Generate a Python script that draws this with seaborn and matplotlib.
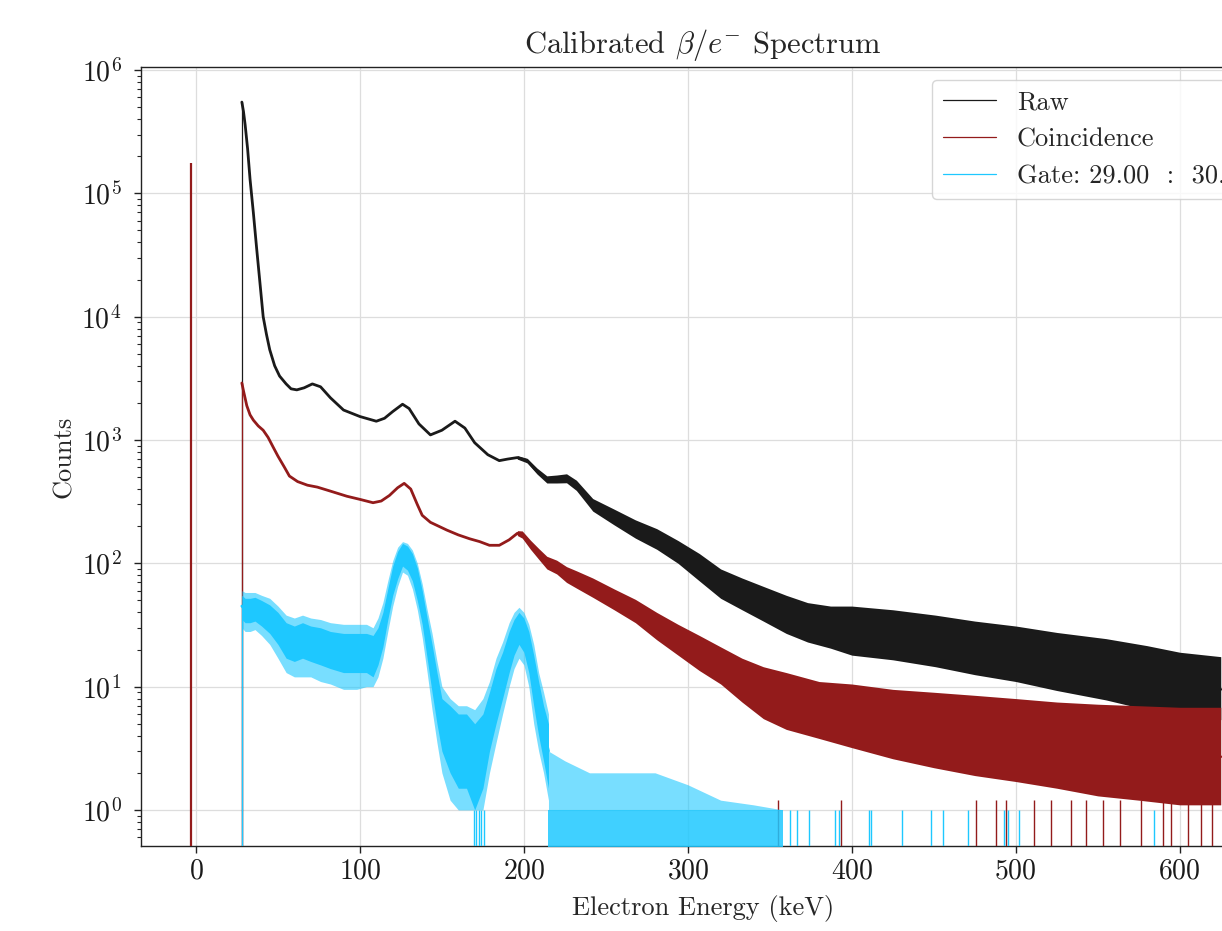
import numpy as np
import pandas as pd
import matplotlib
matplotlib.use("Agg")
import matplotlib.pyplot as plt
import seaborn as sns

# ---------------- data ----------------
raw_E = [28, 29, 30, 31.5, 33, 35, 37, 39, 41, 43, 45, 48, 51, 55, 58, 61.5, 66, 71, 76,
         82, 90, 100, 110, 115, 120, 126, 130, 136, 143, 150, 158, 164, 170, 178, 185, 190,
         196, 202, 208, 214, 220, 226, 232, 242, 255, 268, 281, 294, 307, 320, 333, 346, 360,
         373, 387, 400, 425, 451, 475, 500, 525, 555, 580, 600, 625]
raw_counts = [5.5e5, 4.6e5, 3.6e5, 2.3e5, 1.3e5, 7e4, 3.6e4, 1.9e4, 1.0e4, 7.2e3, 5.4e3,
              4.0e3, 3.3e3, 2.85e3, 2.6e3, 2.55e3, 2.65e3, 2.85e3, 2.7e3, 2.2e3, 1.75e3, 1.55e3,
              1.42e3, 1.5e3, 1.7e3, 1.95e3, 1.8e3, 1.35e3, 1.1e3, 1.2e3, 1.42e3, 1.25e3, 950,
              760, 680, 700, 720, 680, 560, 480, 480, 490, 430, 300, 240, 190, 160, 125, 95, 70,
              58, 48, 40, 34, 31, 29, 27, 24, 21, 19, 16, 14, 12, 10.5, 9.5]
# noise band of the raw spectrum
raw_band_E = [196, 202, 208, 214, 220, 226, 232, 242, 255, 268, 281, 294, 307, 320, 333, 346,
              360, 373, 387, 400, 425, 451, 475, 500, 525, 555, 580, 600, 625]
raw_band_lo = [700, 652, 530, 448, 448, 450, 390, 265, 205, 160, 130, 100, 72, 52, 42, 34,
               27, 23, 20.5, 18, 16.5, 14.5, 12.5, 11, 9.3, 7.8, 6.5, 5.8, 5.4]
raw_band_hi = [748, 710, 592, 512, 520, 532, 472, 335, 275, 225, 191, 153, 120, 90, 76, 65,
               55, 48, 45, 45, 42, 38, 34, 31, 27.5, 24.5, 21.5, 19, 17.5]

coin_spike_E = [-3.2]
coin_spike_counts = [1.75e5]
coin_E = [28, 29, 31, 33, 35, 38, 41, 44, 47, 50, 54, 57, 62, 68, 74, 82, 92, 100, 108,
          113, 118, 123, 127, 131, 135, 138, 143, 148, 153, 160, 167, 173, 179, 185, 191, 196,
          199, 204, 209, 214, 220, 226, 232, 242, 255, 268, 281, 294, 307, 320, 333, 346, 360,
          380, 400, 425, 450, 475, 500, 525, 550, 575, 600, 625]
coin_counts = [2.9e3, 2.5e3, 1.9e3, 1.6e3, 1.45e3, 1.3e3, 1.2e3, 1.05e3, 880, 740, 600,
               510, 460, 430, 415, 385, 350, 330, 310, 320, 355, 410, 445, 400, 300, 245, 215,
               200, 186, 170, 158, 150, 140, 140, 155, 175, 170, 140, 118, 100, 92, 80, 73, 62,
               50, 40, 30, 23, 18, 14.5, 11, 8.5, 7.5, 6.5, 6, 5.3, 4.7, 4.2, 3.8, 3.5, 3.2,
               3.0, 2.8, 2.7]
coin_band_E = [196, 199, 204, 209, 214, 220, 226, 232, 242, 255, 268, 281, 294, 307, 320, 333,
               346, 360, 380, 400, 425, 450, 475, 500, 525, 550, 575, 600, 625]
coin_band_lo = [168, 160, 130, 108, 90, 82, 70, 63, 53, 42, 33, 24, 18, 13.5, 10.5, 7.5,
                5.5, 4.5, 3.8, 3.2, 2.6, 2.2, 1.9, 1.7, 1.5, 1.3, 1.2, 1.1, 1.1]
coin_band_hi = [184, 183, 154, 132, 114, 106, 94, 87, 76, 62, 51, 40, 32, 26, 21, 17,
                14.5, 13, 11, 10.5, 9.5, 9, 8.5, 8, 7.5, 7.2, 7, 6.8, 6.8]
coin_zero_E = [355, 393.6, 476, 487.7, 494, 511, 521.6, 533.4, 542.6, 553, 563.5, 576.5,
               589.6, 594.8, 605, 613, 619.5]

gate_E = [28, 30, 33, 36, 40, 45, 50, 55, 60, 65, 70, 76, 82, 90, 98, 104, 108, 111, 114, 117,
          120, 123, 126, 129, 132, 135, 138, 141, 144, 147, 150, 155, 160, 165, 170, 175, 179,
          183, 187, 191, 194, 197, 200, 203, 206, 209, 212, 215]
gate_counts = [45, 42, 42, 43, 40, 36, 30, 24, 23, 24, 23, 21, 20, 19, 19, 19, 18, 22, 30, 48,
               75, 100, 125, 115, 95, 70, 45, 25, 14, 8, 5, 3.5, 3, 3, 2.5, 3, 5, 9, 13, 20,
               26, 30, 27, 20, 12, 7, 4.5, 3]
gate_lo = [35, 33, 33, 34, 31, 27, 22, 17, 16, 17, 16, 15, 14, 13, 13, 13, 12, 15, 21, 35,
           55, 75, 95, 88, 72, 50, 32, 17, 9, 5, 3, 2, 1.5, 1.5, 1, 1.5, 3, 5, 8, 13,
           18, 22, 19, 13, 7, 4, 2.5, 1.5]
gate_hi = [55, 52, 52, 53, 50, 46, 40, 33, 31, 33, 31, 30, 28, 27, 27, 27, 26, 30, 40, 62,
           95, 125, 145, 138, 120, 92, 60, 36, 22, 13, 8, 7, 6, 6, 5, 6, 9, 14, 19, 28,
           35, 40, 36, 28, 18, 11, 7, 5]
gate_out_lo = [30, 28, 28, 29, 26, 22, 17, 13, 12, 12, 12, 11, 10.5, 9.5, 9.5, 10, 10, 12, 17,
               28, 45, 65, 85, 80, 62, 42, 25, 13, 6.5, 3.5, 2, 1.2, 1, 1, 1, 1, 2, 3.5, 6, 10,
               14, 17, 15, 10, 5, 3, 2, 1.2]
gate_out_hi = [60, 58, 58, 58, 55, 52, 45, 38, 36, 38, 36, 35, 33, 32, 32, 32, 30, 36, 48, 72,
               105, 135, 150, 145, 128, 100, 68, 42, 27, 16, 10, 8, 7, 7, 6.5, 8, 11, 17, 23,
               33, 40, 44, 40, 32, 22, 13, 9, 6]
gate_tail_E = [215, 225, 240, 260, 280, 300, 320, 340, 358]
gate_tail_hi = [3, 2.5, 2, 2, 2, 1.6, 1.2, 1.1, 1.0]
gate_zero_E = [169.5, 171, 172.5, 174, 175.5]
gate_single_E = [362, 366.6, 374, 389.6, 392, 410.6, 412, 430.7, 448.5, 455.8, 470.7,
                 492.9, 495, 502, 584.4]

labels = ["Raw", "Coincidence", "Gate: 29.00  :  30.00"]
colors = ["#1a1a1a", "#931b1b", "#1ec8ff"]

# ---------------- style ----------------
sns.set_style("ticks")
plt.rcParams["font.family"] = ["cmr10", "DejaVu Serif"]
plt.rcParams["mathtext.fontset"] = "cm"
plt.rcParams["axes.unicode_minus"] = False
plt.rcParams["axes.formatter.use_mathtext"] = True

fig = plt.figure(figsize=(12.22, 9.31), dpi=100)
ax = fig.add_axes([0.1154, 0.0913, 0.9198, 0.8368])
ax.set_yscale("log")

BOTTOM = 0.1
lw_thin = 0.9
lw_main = 2.0

# Raw
ax.vlines([raw_E[0]], BOTTOM, raw_counts[0], color=colors[0], lw=lw_thin, zorder=2)
ax.fill_between(raw_band_E, raw_band_lo, raw_band_hi, color=colors[0], lw=0, zorder=2)
sns.lineplot(x=raw_E, y=raw_counts, sort=False, estimator=None, color=colors[0], lw=lw_main,
             ax=ax, label=labels[0], zorder=2)

# Coincidence
ax.vlines(coin_spike_E, BOTTOM, coin_spike_counts, color=colors[1], lw=1.6, zorder=3)
ax.vlines([coin_E[0]], BOTTOM, coin_counts[0], color=colors[1], lw=lw_thin, zorder=3)
ax.fill_between(coin_band_E, coin_band_lo, coin_band_hi, color=colors[1], lw=0, zorder=3)
ax.vlines(coin_zero_E, BOTTOM, 1.2, color=colors[1], lw=1.0, zorder=3)
sns.lineplot(x=coin_E, y=coin_counts, sort=False, estimator=None, color=colors[1], lw=lw_main,
             ax=ax, label=labels[1], zorder=3)

# Gate
ax.vlines([gate_E[0]], BOTTOM, gate_counts[0], color=colors[2], lw=lw_thin, zorder=4)
ax.fill_between(gate_E, gate_out_lo, gate_out_hi, color=colors[2], alpha=0.6, lw=0, zorder=4)
ax.fill_between(gate_E, gate_lo, gate_hi, color=colors[2], lw=0, zorder=4)
ax.fill_between(gate_tail_E, BOTTOM, 1.0, color=colors[2], alpha=0.85, lw=0, zorder=4)
ax.fill_between(gate_tail_E, 1.0, gate_tail_hi, color=colors[2], alpha=0.6, lw=0, zorder=4)
ax.vlines(gate_zero_E, BOTTOM, 1.0, color=colors[2], lw=1.0, zorder=4)
ax.vlines(gate_single_E, BOTTOM, 1.0, color=colors[2], lw=1.0, zorder=4)
sns.lineplot(x=gate_E, y=gate_counts, sort=False, estimator=None, color=colors[2], lw=lw_main,
             ax=ax, label=labels[2], zorder=4)

ax.set_xlim(-33.5, 652)
ax.set_ylim(0.51, 1.06e6)
ax.set_xticks([0, 100, 200, 300, 400, 500, 600])
ax.grid(True, which="major", color="#dddddd", lw=0.9)
ax.set_axisbelow(True)
for s in ax.spines.values():
    s.set_linewidth(1.0)
    s.set_color("#222222")
ax.tick_params(axis="both", which="major", labelsize=20, length=5, width=1, colors="#222222")
ax.tick_params(axis="y", which="major", pad=9)
ax.tick_params(axis="y", which="minor", length=3, width=0.8)
for t in ax.get_xticklabels() + ax.get_yticklabels():
    t.set_color("#1a1a1a")

ax.set_xlabel("Electron Energy (keV)", fontsize=19, labelpad=8)
ax.set_ylabel("Counts", fontsize=19, labelpad=4)
ax.set_title(r"Calibrated $\beta/e^{-}$ Spectrum", fontsize=22, pad=10)

leg = ax.legend(loc="upper right", bbox_to_anchor=(1 + 10 / 1124, 1), fontsize=19,
                frameon=True, framealpha=0.8, edgecolor="#cccccc", handlelength=2.0)
for h in leg.get_lines():
    h.set_linewidth(0.9)

fig.savefig("out.png", dpi=100)
